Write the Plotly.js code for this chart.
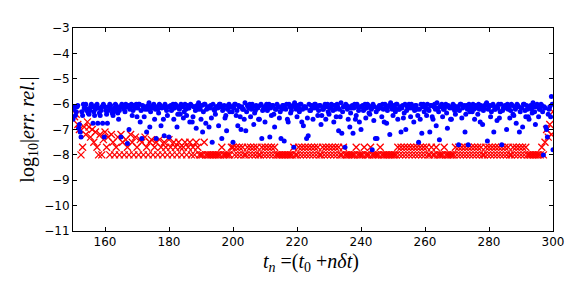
<!DOCTYPE html>
<html>
<head>
<meta charset="utf-8">
<script src="https://cdn.plot.ly/plotly-3.0.1.min.js"></script>
<style>html,body{margin:0;padding:0;background:#fff;}#chart{width:581px;height:290px;}</style>
</head>
<body>
<div id="chart"></div>
<script>
// time grid t_n = t0 + n*dt
const t0 = 150;
const dtRed = 0.5;
const dtBlue = 0.25;

// red crosses: log10 relative error (series 1)
const redErr = [
 -6.2,-6.5,-6.4,-6.8,-7.0,-8.0,-7.7,-6.9,-7.2,-6.7,
 -6.9,-7.3,-7.0,-7.5,-7.1,-7.7,-8.0,-7.2,-8.0,-7.4,
 -7.1,-7.7,-7.3,-8.0,-7.2,-7.5,-8.0,-7.7,-7.3,-8.0,
 -7.2,-7.5,-8.0,-7.4,-7.7,-8.0,-7.2,-7.5,-8.0,-7.3,
 -7.7,-8.0,-7.4,-7.5,-8.0,-7.3,-7.7,-8.0,-7.5,-7.4,
 -8.0,-7.7,-7.5,-8.0,-7.4,-7.7,-8.0,-7.5,-7.7,-8.0,
 -7.4,-7.7,-8.0,-7.5,-7.7,-8.0,-7.5,-7.7,-8.0,-7.7,
 -7.5,-8.0,-7.7,-7.5,-8.0,-7.7,-8.0,-7.5,-7.7,-8.0,
 -8.0,-8.0,-7.5,-8.0,-8.0,-8.0,-8.0,-8.0,-8.0,-8.0,
 -8.0,-8.0,-8.0,-7.7,-8.0,-8.0,-8.0,-8.0,-8.0,-7.7,
 -7.7,-8.0,-7.7,-8.0,-7.7,-8.0,-7.7,-8.0,-8.0,-7.7,
 -8.0,-7.7,-8.0,-7.7,-8.0,-7.7,-8.0,-8.0,-7.7,-8.0,
 -7.7,-8.0,-7.7,-8.0,-7.7,-8.0,-7.7,-8.0,-8.0,-8.0,
 -8.0,-8.0,-8.0,-8.0,-8.0,-8.0,-8.0,-8.0,-7.7,-8.0,
 -8.0,-7.7,-8.0,-7.7,-8.0,-7.7,-8.0,-7.7,-8.0,-7.7,
 -8.0,-7.7,-8.0,-7.7,-8.0,-8.0,-7.7,-8.0,-7.7,-8.0,
 -7.7,-8.0,-7.7,-8.0,-7.7,-8.0,-7.7,-8.0,-8.0,-7.7,
 -8.0,-8.0,-8.0,-8.0,-8.0,-8.0,-8.0,-7.7,-8.0,-8.0,
 -8.0,-8.0,-7.7,-8.0,-8.0,-8.0,-7.7,-8.0,-8.0,-8.0,
 -8.0,-8.0,-7.7,-8.0,-8.0,-8.0,-8.0,-8.0,-8.0,-8.0,
 -8.0,-8.0,-8.0,-7.7,-8.0,-7.7,-8.0,-7.7,-8.0,-7.7,
 -8.0,-7.7,-8.0,-7.7,-8.0,-7.7,-8.0,-7.7,-8.0,-7.7,
 -8.0,-7.7,-8.0,-8.0,-7.7,-8.0,-8.0,-7.7,-8.0,-8.0,
 -8.0,-8.0,-7.7,-8.0,-8.0,-8.0,-8.0,-8.0,-8.0,-7.7,
 -8.0,-7.7,-8.0,-7.7,-8.0,-7.7,-8.0,-7.7,-8.0,-7.7,
 -8.0,-7.7,-8.0,-7.7,-8.0,-7.7,-8.0,-8.0,-7.7,-8.0,
 -7.7,-8.0,-7.7,-8.0,-7.7,-8.0,-7.7,-8.0,-7.7,-8.0,
 -7.7,-8.0,-7.7,-8.0,-8.0,-7.7,-8.0,-7.7,-8.0,-7.7,
 -8.0,-7.7,-8.0,-7.7,-8.0,-8.0,-8.0,-8.0,-8.0,-8.0,
 -8.0,-8.0,-8.0,-7.7,-8.0,-7.5,-7.0,-7.3,-6.8,-7.2,
 -6.3
];

// blue dots: log10 relative error (series 2)
const blueErr = [
 -6.6,-6.2,-6.1,-6.45,-6.3,-6.1,-6.05,-6.95,-6.8,-7.1,-7.3,-6.3,-6.45,-6.0,-6.15,-6.05,-6.0,-6.25,-6.2,-6.35,
 -6.4,-6.25,-6.1,-6.0,-6.1,-6.75,-6.3,-6.45,-6.2,-6.05,-6.0,-6.75,-6.15,-6.35,-6.45,-6.25,-6.1,-6.75,-6.0,-7.3,
 -6.1,-6.25,-6.4,-6.75,-6.25,-6.1,-6.0,-6.05,-6.2,-6.35,-6.45,-6.3,-6.15,-6.0,-6.05,-6.2,-6.35,-6.6,-6.25,-6.1,
 -7.3,-6.0,-6.05,-6.15,-6.2,-6.3,-6.0,-6.1,-7.55,-6.05,-7.0,-6.2,-6.1,-6.0,-6.45,-6.25,-6.05,-6.1,-6.15,-6.0,
 -6.5,-6.15,-6.0,-6.0,-6.7,-6.25,-7.35,-6.05,-6.1,-6.5,-6.2,-6.1,-7.1,-6.2,-6.05,-5.95,-6.9,-6.3,-6.15,-6.1,
 -6.05,-6.0,-6.6,-6.2,-7.35,-6.1,-6.2,-6.35,-6.0,-6.05,-6.85,-6.15,-6.1,-6.6,-7.25,-6.0,-6.15,-6.25,-6.45,-6.1,
 -7.3,-6.1,-6.05,-6.25,-6.2,-6.0,-6.6,-6.15,-6.0,-6.05,-6.9,-6.4,-6.1,-6.2,-6.4,-6.0,-6.05,-6.1,-6.55,-6.3,
 -6.0,-6.2,-6.45,-6.05,-6.15,-6.15,-6.7,-6.0,-6.05,-6.7,-6.5,-6.1,-6.1,-6.25,-6.95,-6.05,-6.2,-5.95,-6.05,-6.2,
 -6.6,-6.05,-7.1,-6.3,-6.0,-6.0,-6.75,-6.2,-6.15,-6.1,-6.9,-6.15,-6.05,-6.55,-7.5,-6.0,-6.2,-6.25,-6.4,-6.1,
 -6.1,-6.15,-6.85,-6.0,-6.0,-6.1,-7.35,-6.25,-6.15,-6.05,-6.55,-6.45,-7.05,-6.2,-6.05,-6.0,-6.3,-6.1,-6.1,-6.3,
 -7.5,-6.15,-6.0,-6.0,-6.45,-6.25,-6.85,-6.05,-6.1,-6.5,-7.0,-6.1,-6.2,-6.2,-6.6,-5.95,-7.05,-6.3,-6.05,-6.1,
 -6.15,-6.0,-6.5,-6.2,-6.0,-6.1,-6.8,-6.35,-6.25,-6.05,-6.1,-6.15,-6.6,-6.6,-6.05,-6.0,-7.35,-6.25,-6.2,-6.1,
 -6.7,-6.1,-6.0,-6.25,-6.15,-6.0,-7.3,-6.15,-6.45,-6.05,-6.05,-6.4,-6.9,-6.2,-6.2,-6.0,-6.1,-6.1,-6.55,-6.3,
 -7.35,-6.2,-6.05,-6.05,-7.45,-6.15,-6.2,-6.0,-6.6,-6.7,-6.0,-6.1,-6.35,-6.25,-6.1,-6.05,-7.7,-5.95,-6.05,-6.2,
 -6.5,-6.05,-6.15,-6.3,-6.0,-6.0,-6.7,-6.2,-6.85,-6.1,-6.1,-6.15,-7.35,-6.55,-7.25,-6.0,-6.25,-6.25,-6.05,-6.1,
 -6.6,-6.15,-6.0,-6.0,-6.15,-6.1,-6.45,-6.25,-6.05,-6.05,-6.8,-6.45,-6.2,-6.2,-6.1,-6.0,-6.6,-6.1,-6.0,-6.3,
 -6.4,-6.15,-6.15,-6.0,-6.05,-6.25,-6.7,-6.05,-6.2,-6.5,-6.0,-6.1,-7.05,-6.2,-6.5,-5.95,-7.15,-6.3,-6.1,-6.1,
 -7.7,-6.0,-6.05,-6.2,-6.6,-6.1,-6.9,-6.35,-6.15,-6.05,-7.15,-6.15,-6.0,-6.6,-6.45,-6.0,-6.1,-6.25,-6.7,-6.1,
 -7.0,-6.1,-6.05,-6.25,-6.2,-6.0,-6.55,-6.15,-6.0,-6.05,-6.35,-6.4,-6.1,-6.2,-7.8,-6.0,-6.65,-6.1,-7.35,-6.3,
 -7.35,-6.2,-6.15,-6.05,-6.05,-6.15,-6.5,-6.0,-6.2,-6.7,-6.0,-6.1,-6.75,-6.25,-6.1,-6.05,-7.2,-5.95,-6.05,-6.2,
 -6.45,-6.05,-6.15,-6.3,-6.0,-6.0,-6.6,-6.2,-6.2,-6.1,-7.1,-6.15,-6.05,-6.55,-6.35,-6.0,-7.0,-6.25,-6.1,-6.1,
 -6.0,-6.15,-6.5,-6.0,-6.15,-6.1,-6.7,-6.25,-6.05,-6.05,-6.2,-6.45,-7.5,-6.2,-6.6,-6.0,-7.15,-6.1,-6.0,-6.3,
 -6.1,-6.15,-6.45,-6.0,-6.2,-6.25,-7.1,-6.05,-6.05,-6.5,-6.6,-6.1,-6.0,-6.2,-6.85,-5.95,-6.15,-6.3,-7.4,-6.1,
 -6.05,-6.0,-6.5,-6.2,-6.2,-6.1,-6.0,-6.35,-6.95,-6.05,-6.1,-6.15,-6.6,-6.6,-6.15,-6.0,-6.05,-6.25,-6.4,-6.1,
 -6.2,-6.1,-7.6,-6.25,-6.0,-6.0,-6.55,-6.15,-6.1,-6.05,-7.1,-6.4,-6.05,-6.2,-7.6,-6.0,-6.3,-6.1,-6.15,-6.3,
 -6.0,-6.2,-6.6,-6.05,-6.1,-6.15,-6.4,-6.0,-6.2,-6.7,-6.05,-6.1,-6.8,-6.25,-6.15,-6.05,-6.0,-5.95,-7.45,-6.2,
 -6.1,-6.05,-6.5,-6.3,-6.05,-6.0,-7.1,-6.2,-6.2,-6.1,-6.65,-6.15,-6.0,-6.55,-6.3,-6.0,-7.6,-6.25,-6.15,-6.1,
 -6.05,-6.15,-7.0,-6.0,-6.2,-6.1,-6.55,-6.25,-6.0,-6.05,-6.4,-6.45,-6.1,-6.2,-6.75,-6.0,-6.05,-6.1,-7.1,-6.3,
 -6.15,-6.15,-6.9,-6.0,-6.0,-6.25,-6.5,-6.05,-6.2,-6.5,-6.6,-6.1,-6.05,-6.2,-6.35,-5.95,-6.1,-6.3,-6.8,-6.1,
 -6.0,-6.1,-6.5,-6.2,-6.2,-6.0,-6.05,-6.3,-8.0,-6.1,-6.15,-6.9,-7.0,-7.3,-6.4,-6.2,-6.1,-6.5,-5.7,-6.0,
 -7.8
];

const xTickVals = [160, 180, 200, 220, 240, 260, 280, 300];
const yTickVals = [-11, -10, -9, -8, -7, -6, -5, -4, -3];

const tRed = redErr.map((_, n) => t0 + n * dtRed);
const tBlue = blueErr.map((_, n) => t0 + n * dtBlue);

const traces = [
  {
    x: tRed, y: redErr, type: 'scatter', mode: 'markers',
    marker: {symbol: 'x-thin-open', size: 7, color: 'red', line: {color: 'red', width: 1.3}},
    hoverinfo: 'skip'
  },
  {
    x: tBlue, y: blueErr, type: 'scatter', mode: 'markers',
    marker: {symbol: 'circle', size: 5, color: 'blue', line: {width: 0}},
    hoverinfo: 'skip'
  }
];

const axisCommon = {
  showgrid: false, zeroline: false,
  showline: true, linecolor: 'black', linewidth: 1, mirror: 'ticks',
  ticks: 'inside', ticklen: 4, tickwidth: 1, tickcolor: 'black',
  tickfont: {family: 'DejaVu Sans', size: 12, color: 'black'}
};

const layout = {
  width: 581, height: 290,
  margin: {l: 73, r: 28, t: 28, b: 59},
  paper_bgcolor: 'white', plot_bgcolor: 'white',
  showlegend: false,
  xaxis: Object.assign({}, axisCommon, {
    range: [150, 300], tickvals: xTickVals, ticktext: xTickVals.map(String)
  }),
  yaxis: Object.assign({}, axisCommon, {
    range: [-11, -3], tickvals: yTickVals,
    title: {text: 'log<sub>10</sub>|<i>err. rel.</i>|',
            font: {family: 'Liberation Serif', size: 20, color: 'black'}, standoff: 4}
  }),
  annotations: [{
    text: '<i>t<sub>n</sub></i> =(<i>t</i><sub>0</sub> +<i>nδt</i>)',
    xref: 'paper', yref: 'paper', x: 0.495, y: -0.155,
    xanchor: 'center', yanchor: 'middle', showarrow: false,
    font: {family: 'Liberation Serif', size: 20, color: 'black'}
  }]
};

Plotly.newPlot('chart', traces, layout, {staticPlot: true, displayModeBar: false});
</script>
</body>
</html>
